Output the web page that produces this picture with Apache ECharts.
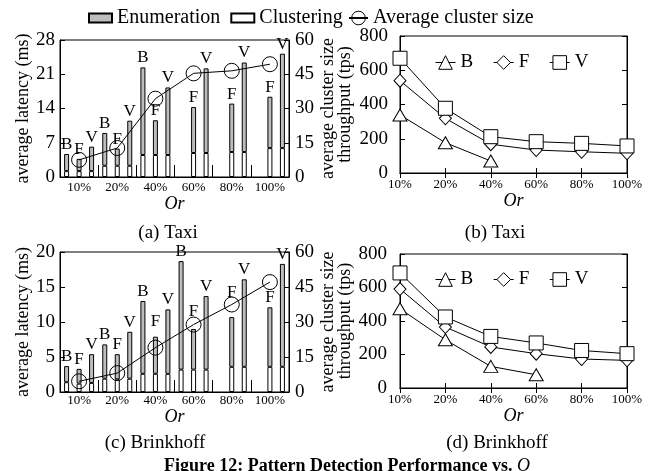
<!DOCTYPE html>
<html>
<head>
<meta charset="utf-8">
<script src="https://cdn.jsdelivr.net/npm/echarts@6/dist/echarts.min.js"></script>
<style>
html, body { margin: 0; padding: 0; background: #fff; }
#main { width: 659px; height: 471px; }
</style>
</head>
<body>
<div id="main"></div>
<script>
// Or values on the x axis
const categories = ['10%', '20%', '40%', '60%', '80%', '100%'];

// (a) Taxi - latency (ms): clustering part and enumeration part per method
const taxiClusterB = [1.2, 2.3, 4.5, null, null, null];
const taxiEnumB    = [3.5, 6.7, 17.9, null, null, null];
const taxiClusterF = [1.2, 2.3, 4.5, 4.9, 5.1, 5.9];
const taxiEnumF    = [2.5, 3.5, 7.1, 9.4, 9.9, 10.5];
const taxiClusterV = [1.2, 2.3, 4.5, 4.9, 5.1, 5.9];
const taxiEnumV    = [5.0, 9.2, 13.8, 17.3, 18.3, 19.3];
const taxiClusterSize = [7.5, 12.7, 34.3, 45.4, 46.5, 49.4];

// (b) Taxi - throughput (tps)
const taxiTputB = [339, 177, 70, null, null, null];
const taxiTputF = [539, 319, 168, 134, 124, 115];
const taxiTputV = [670, 378, 212, 183, 173, 158];

// (c) Brinkhoff - latency (ms)
const brinkClusterB = [1.4, 1.9, 2.6, 3.2, null, null];
const brinkEnumB    = [2.3, 4.9, 10.4, 15.5, null, null];
const brinkClusterF = [1.2, 1.8, 2.6, 3.2, 3.6, 3.6];
const brinkEnumF    = [2.1, 3.6, 5.3, 5.8, 7.1, 8.5];
const brinkClusterV = [1.3, 1.9, 2.6, 3.2, 3.6, 3.6];
const brinkEnumV    = [4.1, 6.7, 9.2, 10.5, 12.5, 14.7];
const brinkClusterSize = [4.6, 8.1, 19.0, 28.9, 37.5, 47.1];

// (d) Brinkhoff - throughput (tps)
const brinkTputB = [473, 288, 129, 79, null, null];
const brinkTputF = [591, 364, 245, 205, 173, 165];
const brinkTputV = [687, 424, 308, 269, 224, 205];

const SERIF = 'Liberation Serif';
const BLACK = '#000';
const GRAY = '#bdbdbd';

// labels that sit a bit higher in the original (to clear the circles)
const brinkFLabelLift = [0, 0, 6, 8, 15, 0];

function txt(size, extra) {
  return Object.assign({ fontFamily: SERIF, fontSize: size, color: BLACK }, extra || {});
}

function barStack(stack, letter, clusterData, enumData, xi, yi, lift) {
  const enumItems = enumData.map((v, i) => {
    if (!lift || !lift[i]) return v;
    return { value: v, label: { offset: [0, -lift[i]] } };
  });
  return [
    {
      name: 'Clustering', type: 'bar', stack: stack,
      xAxisIndex: xi, yAxisIndex: yi,
      barWidth: 5, barGap: '150%',
      data: clusterData,
      itemStyle: { color: '#fff', borderColor: BLACK, borderWidth: 1 }
    },
    {
      name: 'Enumeration', type: 'bar', stack: stack,
      xAxisIndex: xi, yAxisIndex: yi,
      barWidth: 5, barGap: '150%',
      data: enumItems,
      itemStyle: { color: GRAY, borderColor: BLACK, borderWidth: 1 },
      label: { show: true, position: 'top', distance: 1, formatter: letter, ...txt(17) }
    }
  ];
}

function sizeLine(data, xi, yi) {
  return {
    name: 'Average cluster size', type: 'line',
    xAxisIndex: xi, yAxisIndex: yi, data: data,
    symbol: 'circle', symbolSize: 15, z: 5,
    lineStyle: { color: BLACK, width: 1 },
    itemStyle: { color: 'rgba(0,0,0,0)', borderColor: BLACK, borderWidth: 1 }
  };
}

const shapes = {
  B: { symbol: 'triangle', symbolSize: [14, 12] },
  F: { symbol: 'diamond', symbolSize: [12, 13] },
  V: { symbol: 'rect', symbolSize: 14 }
};

function tputLine(name, data, xi, yi) {
  return Object.assign({
    name: name, type: 'line',
    xAxisIndex: xi, yAxisIndex: yi, data: data,
    lineStyle: { color: BLACK, width: 1 },
    itemStyle: { color: '#fff', borderColor: BLACK, borderWidth: 1 }
  }, shapes[name]);
}

const axisLine = { show: true, lineStyle: { color: BLACK, width: 1 } };

function barX(gi, nameGap, margin) {
  return {
    gridIndex: gi, type: 'category', data: categories, boundaryGap: true,
    axisLine: axisLine,
    axisTick: { show: true, inside: true, length: 12, lineStyle: { color: BLACK } },
    axisLabel: Object.assign({ margin: margin, interval: 0 }, txt(13)),
    name: 'Or', nameLocation: 'middle', nameGap: nameGap,
    nameTextStyle: txt(18, { fontStyle: 'italic' })
  };
}

function lineX(gi, nameGap, margin) {
  return {
    gridIndex: gi, type: 'category', data: categories, boundaryGap: false,
    axisLine: axisLine,
    axisTick: { show: true, inside: true, length: 5, interval: 0, lineStyle: { color: BLACK } },
    axisLabel: Object.assign({ margin: margin, interval: 0 }, txt(13)),
    name: 'Or', nameLocation: 'middle', nameGap: nameGap,
    nameTextStyle: txt(18, { fontStyle: 'italic' })
  };
}

function topMirror(gi) {
  return {
    gridIndex: gi, type: 'category', data: categories, boundaryGap: false, position: 'top',
    axisLine: axisLine,
    axisTick: { show: true, inside: true, length: 5, interval: 0, lineStyle: { color: BLACK } },
    axisLabel: { show: false }
  };
}

function valY(gi, pos, max, interval, opts) {
  return Object.assign({
    gridIndex: gi, type: 'value', position: pos, min: 0, max: max, interval: interval,
    axisLine: axisLine,
    axisTick: { show: true, inside: true, length: 5, lineStyle: { color: BLACK } },
    splitLine: { show: false },
    axisLabel: Object.assign({ margin: 5 }, txt(19))
  }, opts || {});
}

function yName(name, gap) {
  return {
    name: name, nameLocation: 'middle', nameRotate: 90, nameGap: gap,
    nameTextStyle: txt(18)
  };
}

const gridStyle = { show: true, borderColor: BLACK, borderWidth: 1, backgroundColor: 'transparent' };

const hollow = { color: '#fff', borderColor: BLACK, borderWidth: 1 };
const methodLegend = ['B', 'F', 'V'].map(n => ({ name: n, itemStyle: hollow, lineStyle: { color: BLACK, width: 1 } }));

const option = {
  animation: false,
  backgroundColor: '#fff',
  grid: [
    Object.assign({ left: 60, right: 370, top: 40, bottom: 294 }, gridStyle),
    Object.assign({ left: 400, right: 32, top: 36, bottom: 298 }, gridStyle),
    Object.assign({ left: 60, right: 370, top: 252, bottom: 79 }, gridStyle),
    Object.assign({ left: 400, right: 32, top: 254, bottom: 83 }, gridStyle)
  ],
  legend: [
    {
      data: [
        { name: 'Enumeration', icon: 'rect' },
        { name: 'Clustering', icon: 'rect' }
      ],
      left: 83, top: 3, itemWidth: 23, itemHeight: 9, itemGap: 10,
      selectedMode: false, textStyle: txt(20)
    },
    {
      data: [{ name: 'Average cluster size', itemStyle: { color: 'rgba(0,0,0,0)', borderColor: BLACK, borderWidth: 1 } }],
      left: 343, top: 3, itemWidth: 19, itemHeight: 17,
      selectedMode: false, textStyle: txt(20)
    },
    {
      data: methodLegend,
      left: 430, top: 48, itemWidth: 20, itemHeight: 17, itemGap: 20,
      selectedMode: false, textStyle: txt(19)
    },
    {
      data: methodLegend,
      left: 430, top: 265, itemWidth: 20, itemHeight: 17, itemGap: 20,
      selectedMode: false, textStyle: txt(19)
    }
  ],
  xAxis: [
    barX(0, 16, 4),
    lineX(1, 16, 5),
    barX(2, 14, 2),
    lineX(3, 18, 5),
    topMirror(1),
    topMirror(3)
  ],
  yAxis: [
    valY(0, 'left', 28, 7, yName('average latency (ms)', 28)),
    valY(0, 'right', 60, 15, Object.assign({ axisLabel: Object.assign({ margin: 6 }, txt(19)) }, yName('average cluster size', 30))),
    valY(1, 'left', 800, 200, Object.assign({ axisLabel: Object.assign({ margin: 12 }, txt(19)) }, yName('throughput (tps)', 46))),
    valY(2, 'left', 20, 5, yName('average latency (ms)', 28)),
    valY(2, 'right', 60, 15, Object.assign({ axisLabel: Object.assign({ margin: 6 }, txt(19)) }, yName('average cluster size', 30))),
    valY(3, 'left', 800, 200, Object.assign({ axisLabel: Object.assign({ margin: 13 }, txt(19)) }, yName('throughput (tps)', 46))),
    valY(1, 'right', 800, 200, { axisLabel: { show: false } }),
    valY(3, 'right', 800, 200, { axisLabel: { show: false } })
  ],
  series: [
    ...barStack('aB', 'B', taxiClusterB, taxiEnumB, 0, 0),
    ...barStack('aF', 'F', taxiClusterF, taxiEnumF, 0, 0),
    ...barStack('aV', 'V', taxiClusterV, taxiEnumV, 0, 0),
    sizeLine(taxiClusterSize, 0, 1),
    tputLine('B', taxiTputB, 1, 2),
    tputLine('F', taxiTputF, 1, 2),
    tputLine('V', taxiTputV, 1, 2),
    ...barStack('cB', 'B', brinkClusterB, brinkEnumB, 2, 3),
    ...barStack('cF', 'F', brinkClusterF, brinkEnumF, 2, 3, brinkFLabelLift),
    ...barStack('cV', 'V', brinkClusterV, brinkEnumV, 2, 3),
    sizeLine(brinkClusterSize, 2, 4),
    tputLine('B', brinkTputB, 3, 5),
    tputLine('F', brinkTputF, 3, 5),
    tputLine('V', brinkTputV, 3, 5)
  ],
  graphic: [
    { type: 'text', x: 168, y: 233, style: { text: '(a) Taxi', font: '19px "Liberation Serif"', fill: BLACK, align: 'center', verticalAlign: 'middle' } },
    { type: 'text', x: 495, y: 233, style: { text: '(b) Taxi', font: '19px "Liberation Serif"', fill: BLACK, align: 'center', verticalAlign: 'middle' } },
    { type: 'text', x: 155, y: 443, style: { text: '(c) Brinkhoff', font: '19px "Liberation Serif"', fill: BLACK, align: 'center', verticalAlign: 'middle' } },
    { type: 'text', x: 497, y: 443, style: { text: '(d) Brinkhoff', font: '19px "Liberation Serif"', fill: BLACK, align: 'center', verticalAlign: 'middle' } },
    {
      type: 'text', x: 347, y: 466,
      style: {
        text: '{b|Figure 12: Pattern Detection Performance vs. }{i|O}',
        align: 'center', verticalAlign: 'middle',
        rich: {
          b: { fontFamily: SERIF, fontSize: 18, fontWeight: 'bold', fill: BLACK },
          i: { fontFamily: SERIF, fontSize: 18, fontStyle: 'italic', fill: BLACK }
        }
      }
    }
  ]
};

const chart = echarts.init(document.getElementById('main'));
chart.setOption(option);
</script>
</body>
</html>
